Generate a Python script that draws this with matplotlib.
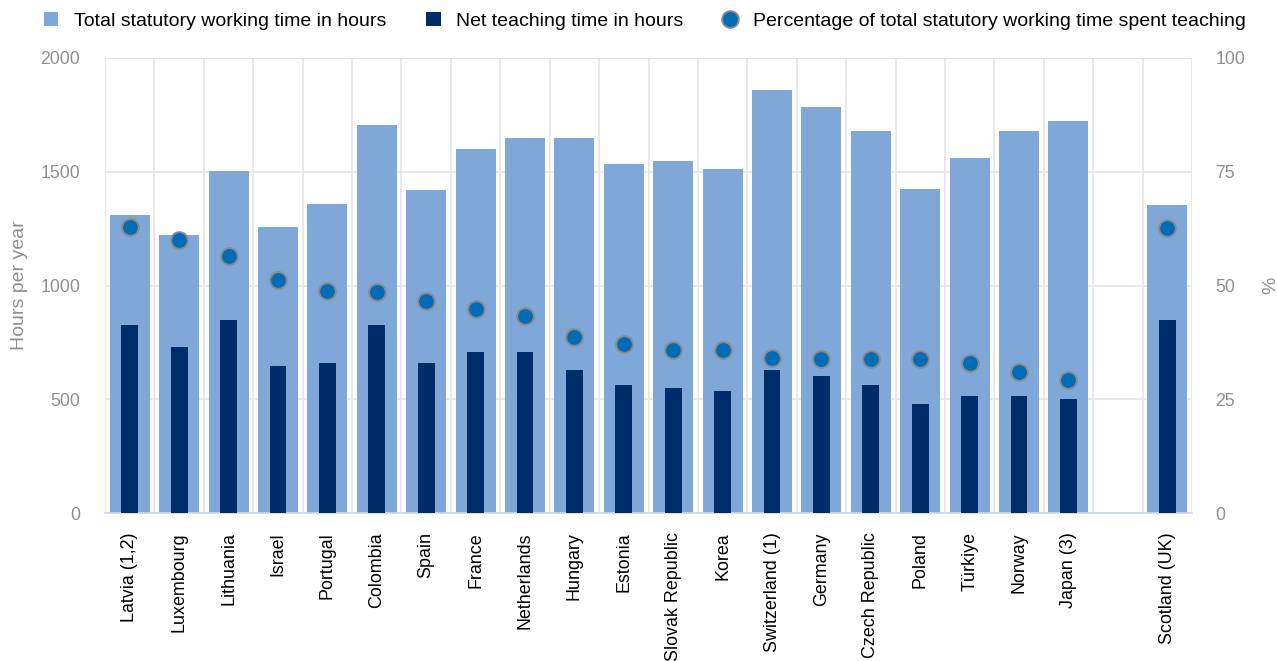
import numpy as np
import matplotlib
matplotlib.use('Agg')
import matplotlib.pyplot as plt
from matplotlib.patches import Patch
from matplotlib.lines import Line2D

plt.rcParams['font.family'] = ['Liberation Sans', 'DejaVu Sans']

countries = ['Latvia (1,2)', 'Luxembourg', 'Lithuania', 'Israel', 'Portugal', 'Colombia',
             'Spain', 'France', 'Netherlands', 'Hungary', 'Estonia', 'Slovak Republic',
             'Korea', 'Switzerland (1)', 'Germany', 'Czech Republic', 'Poland', 'Türkiye',
             'Norway', 'Japan (3)', '', 'Scotland (UK)']
total_hours = [1310, 1222, 1505, 1257, 1358, 1705, 1420, 1600, 1648, 1648, 1534, 1547,
               1512, 1859, 1785, 1679, 1424, 1560, 1679, 1723, np.nan, 1354]
net_teaching = [826, 730, 848, 646, 659, 826, 659, 708, 708, 629, 563, 549,
                536, 629, 602, 563, 479, 514, 514, 501, np.nan, 848]
pct_teaching = [62.9, 60.0, 56.4, 51.2, 48.7, 48.6, 46.6, 44.8, 43.3, 38.6, 37.2, 35.9,
                35.8, 34.1, 33.9, 33.9, 33.8, 33.0, 30.9, 29.3, np.nan, 62.6]

c_total = '#7fa7d8'
c_net = '#002d6a'
c_dot = '#006bb6'
c_grid = '#e6e6e6'
c_tick = '#8f8f8f'

x = np.arange(len(countries))

fig = plt.figure(figsize=(12.77, 6.61), dpi=100)
ax = fig.add_axes([105/1277, 1-513/661, (1192-105)/1277, (513-58)/661])

ax.bar(x, total_hours, width=0.81, color=c_total, zorder=2)
ax.bar(x, net_teaching, width=0.34, color=c_net, zorder=3)

ax.set_xlim(-0.5, len(countries)-0.5)
ax.set_ylim(0, 2000)
ax.set_yticks([0, 500, 1000, 1500, 2000])
ax.set_xticks(x)
ax.set_xticklabels(countries, rotation=90, va='top', ha='center', fontsize=12.9, color='black')
ax.set_xticks(np.arange(-0.5, len(countries), 1), minor=True)
ax.tick_params(axis='x', which='both', length=0, pad=14)
ax.tick_params(axis='y', length=0, pad=18, labelsize=12.7, labelcolor=c_tick)
ax.grid(axis='y', which='major', color=c_grid, linewidth=1.3, zorder=0)
ax.grid(axis='x', which='minor', color=c_grid, linewidth=1.3, zorder=0)
ax.set_axisbelow(True)
for s in ['top', 'left', 'right']:
    ax.spines[s].set_visible(False)
ax.spines['bottom'].set_color('#ccd6eb')
ax.spines['bottom'].set_linewidth(1.2)
ax.set_ylabel('Hours per year', fontsize=14, color=c_tick, labelpad=9)

ax2 = ax.twinx()
ax2.set_ylim(0, 100)
ax2.set_yticks([0, 25, 50, 75, 100])
ax2.plot(x, pct_teaching, linestyle='none', marker='o', markersize=12,
         markerfacecolor=c_dot, markeredgecolor='#8a8a8a', markeredgewidth=1.4, zorder=5)
ax2.tick_params(axis='y', length=0, pad=17, labelsize=12.7, labelcolor=c_tick)
for s in ['top', 'left', 'right', 'bottom']:
    ax2.spines[s].set_visible(False)
ax2.set_ylabel('%', fontsize=14, color=c_tick)
ax2.yaxis.set_label_coords((1262 - 105) / 1087, 0.5)

handles = [Patch(facecolor=c_total, edgecolor='none'),
           Patch(facecolor=c_net, edgecolor='none'),
           Line2D([], [], linestyle='none', marker='o', markersize=12,
                  markerfacecolor=c_dot, markeredgecolor='#8a8a8a', markeredgewidth=1.4)]
labels = ['Total statutory working time in hours', 'Net teaching time in hours',
          'Percentage of total statutory working time spent teaching']
fig.legend(handles, labels, loc='center', bbox_to_anchor=(0.505, 0.968), ncol=3,
           frameon=False, fontsize=14, handlelength=0.75, handleheight=0.75,
           handletextpad=0.8, columnspacing=2.05)

fig.savefig('out.png', dpi=100)
